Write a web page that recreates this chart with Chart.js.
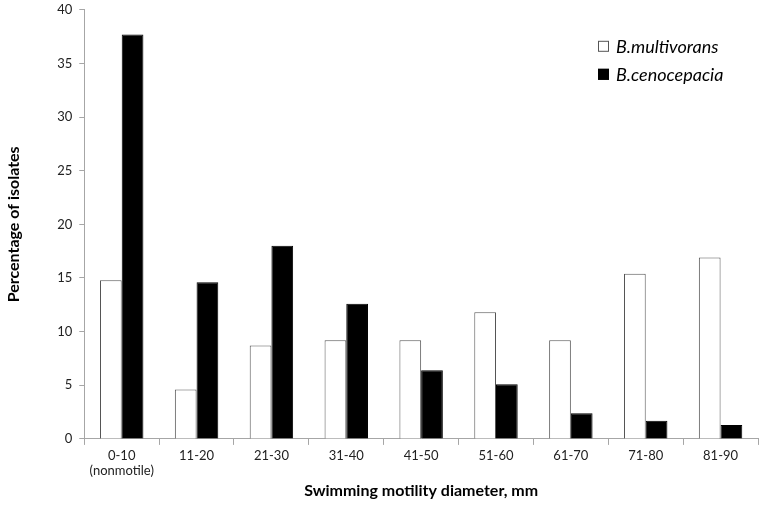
<!DOCTYPE html>
<html>
<head>
<meta charset="utf-8">
<script src="https://cdn.jsdelivr.net/npm/chart.js@4/dist/chart.umd.min.js"></script>
<style>
  html, body { margin: 0; padding: 0; background: #fff; overflow: hidden; }
  #wrap { width: 766px; height: 518px; margin-top: -5px; }
</style>
</head>
<body>
<div id="wrap"><canvas id="chart"></canvas></div>
<script>
const categories = [['0-10', '(nonmotile)'], '11-20', '21-30', '31-40', '41-50', '51-60', '61-70', '71-80', '81-90'];
const multivorans = [14.8, 4.6, 8.7, 9.2, 9.2, 11.8, 9.2, 15.4, 16.9];
const cenocepacia = [37.7, 14.6, 18.0, 12.6, 6.4, 5.1, 2.4, 1.7, 1.3];
const yTicks = [0, 5, 10, 15, 20, 25, 30, 35, 40];

const FONT = 'Lato, "Open Sans", sans-serif';
const axisGray = '#a6a6a6';

// legend drawn inside the plot, top right
const innerLegend = {
  id: 'innerLegend',
  afterDraw(chart) {
    const c = chart.ctx;
    const area = chart.chartArea;
    const x = area.right - 160;
    let y = area.top + 36;
    c.save();
    c.font = 'italic 18px ' + FONT;
    c.textBaseline = 'middle';
    chart.data.datasets.forEach(ds => {
      c.fillStyle = ds.backgroundColor;
      c.strokeStyle = ds.borderColor;
      c.lineWidth = 1;
      c.fillRect(x, y - 5, 11, 11);
      c.strokeRect(x + 0.5, y - 4.5, 10, 10);
      c.fillStyle = '#000';
      c.fillText(ds.label, x + 18, y + 1);
      y += 28;
    });
    c.restore();
  }
};

new Chart(document.getElementById('chart'), {
  type: 'bar',
  data: {
    labels: categories,
    datasets: [
      { label: 'B.multivorans', data: multivorans, backgroundColor: '#ffffff', borderColor: '#555555', borderWidth: 1 },
      { label: 'B.cenocepacia', data: cenocepacia, backgroundColor: '#000000', borderColor: '#000000', borderWidth: 1 }
    ]
  },
  options: {
    responsive: true,
    maintainAspectRatio: false,
    animation: false,
    layout: { padding: { top: 0, right: 8, left: 0, bottom: 9 } },
    plugins: { legend: { display: false }, tooltip: { enabled: false } },
    datasets: { bar: { barPercentage: 1, categoryPercentage: 0.58 } },
    scales: {
      x: {
        grid: { offset: true, drawOnChartArea: false, tickLength: 6, color: axisGray },
        border: { color: axisGray },
        ticks: { color: '#222', font: { family: FONT, size: 13, lineHeight: 1.15 }, maxRotation: 0, padding: 3 },
        title: { display: true, text: 'Swimming motility diameter, mm', color: '#000', font: { family: FONT, size: 16, weight: 'bold' }, padding: { top: 0, bottom: 4 } }
      },
      y: {
        min: 0,
        max: 40,
        afterBuildTicks(axis) { axis.ticks = yTicks.map(v => ({ value: v })); },
        grid: { drawOnChartArea: false, tickLength: 5, color: axisGray },
        border: { color: axisGray },
        ticks: { color: '#222', font: { family: FONT, size: 13 }, padding: 7 },
        title: { display: true, text: 'Percentage of isolates', color: '#000', font: { family: FONT, size: 16, weight: 'bold' }, padding: { bottom: 27 } }
      }
    }
  },
  plugins: [innerLegend]
});
</script>
</body>
</html>
